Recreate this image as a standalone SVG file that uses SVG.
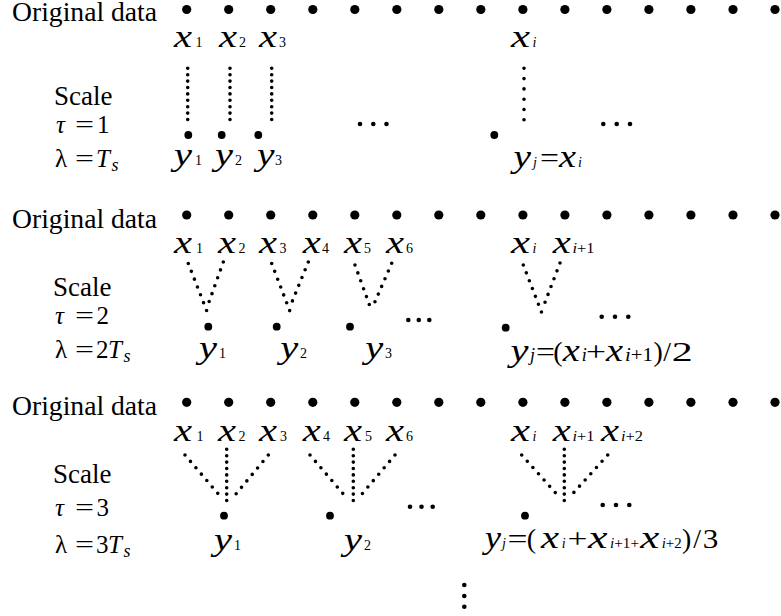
<svg xmlns="http://www.w3.org/2000/svg" width="781" height="616" viewBox="0 0 781 616">
<style>
.t{font-family:'Liberation Serif','DejaVu Serif',Times,serif;fill:#000}
.lbl{font-size:27px}
.m{font-size:25px}
.it{font-style:italic}
.v{font-size:31px;font-style:italic}
.s{font-size:14px}
.sb{font-size:18px}
.f{font-size:28px}
.dl{fill:none;stroke:#000;stroke-width:3.6;stroke-linecap:round;stroke-dasharray:0 6.4}
.dw{fill:none;stroke:#000;stroke-width:3.6;stroke-linecap:round;stroke-dasharray:0 10.3}
.da{fill:none;stroke:#000;stroke-width:3.6;stroke-linecap:round;stroke-dasharray:0 8.4}
</style>
<rect width="781" height="616" fill="#fff"/>
<defs>
<circle id="bd" r="4.6"/>
<circle id="yd" r="3.9"/>
<circle id="ed" r="2.3"/>
</defs>

<!-- ================= ROW 1 ================= -->
<g id="r1-labels">
<text class="t lbl" x="12" y="21" textLength="145" lengthAdjust="spacingAndGlyphs">Original data</text>
<text class="t lbl" x="54" y="105">Scale</text>
<text class="t m it" x="56" y="133">τ</text>
<text class="t m" x="75" y="133" textLength="19" lengthAdjust="spacingAndGlyphs">=</text>
<text class="t m" x="97" y="133">1</text>
<text class="t m" x="55" y="167">λ</text>
<text class="t m" x="75" y="167" textLength="19" lengthAdjust="spacingAndGlyphs">=</text>
<text class="t m it" x="96" y="167">T</text>
<text class="t it" style="font-size:18px" x="111.5" y="171">s</text>
</g>
<g id="r1-data">
<use href="#bd" x="186.7" y="9.5"/><use href="#bd" x="228.7" y="9.5"/><use href="#bd" x="270.7" y="9.5"/>
<use href="#bd" x="312.8" y="9.5"/><use href="#bd" x="354.8" y="9.5"/><use href="#bd" x="396.8" y="9.5"/>
<use href="#bd" x="438.8" y="9.5"/><use href="#bd" x="480.8" y="9.5"/><use href="#bd" x="522.9" y="9.5"/>
<use href="#bd" x="564.9" y="9.5"/><use href="#bd" x="606.9" y="9.5"/><use href="#bd" x="648.9" y="9.5"/>
<use href="#bd" x="690.9" y="9.5"/><use href="#bd" x="733" y="9.5"/><use href="#bd" x="775" y="9.5"/>
</g>
<g id="r1-x1"><text class="t v" x="174" y="46.7" textLength="18" lengthAdjust="spacingAndGlyphs">x</text><text class="t s" x="195.5" y="46.7">1</text></g>
<g id="r1-x2"><text class="t v" x="219" y="46.7" textLength="18" lengthAdjust="spacingAndGlyphs">x</text><text class="t s" x="239" y="46.7">2</text></g>
<g id="r1-x3"><text class="t v" x="259" y="46.7" textLength="18" lengthAdjust="spacingAndGlyphs">x</text><text class="t s" x="279" y="46.7">3</text></g>
<g id="r1-xi"><text class="t v" x="511" y="46.7" textLength="19" lengthAdjust="spacingAndGlyphs">x</text><text class="t s it" x="532.5" y="46.7">i</text></g>

<g id="r1-connectors">
<path class="dl" d="M187.7 68.3V120"/>
<path class="dl" d="M230 68.3V120"/>
<path class="dl" d="M271.7 68.3V120"/>
<path class="dw" d="M524 68.3V121"/>
</g>

<g id="r1-y1"><use href="#yd" x="188.3" y="135"/><text class="t v" x="174" y="165" textLength="18" lengthAdjust="spacingAndGlyphs">y</text><text class="t s" x="195" y="165">1</text></g>
<g id="r1-y2"><use href="#yd" x="221.7" y="135"/><text class="t v" x="215" y="165" textLength="18" lengthAdjust="spacingAndGlyphs">y</text><text class="t s" x="235" y="165">2</text></g>
<g id="r1-y3"><use href="#yd" x="258.3" y="135"/><text class="t v" x="257" y="165" textLength="17.5" lengthAdjust="spacingAndGlyphs">y</text><text class="t s" x="275" y="165">3</text></g>
<g id="r1-ell1"><use href="#ed" x="360" y="124"/><use href="#ed" x="373.3" y="124"/><use href="#ed" x="386.5" y="124"/></g>
<g id="r1-yj">
<use href="#yd" x="494.3" y="135"/>
<text class="t v" x="513.5" y="166.7" textLength="17.5" lengthAdjust="spacingAndGlyphs">y</text>
<text class="t s it" x="533" y="166.7">j</text>
<text class="t f" x="540" y="166.7" textLength="19" lengthAdjust="spacingAndGlyphs">=</text>
<text class="t v" x="559" y="166.7" textLength="17" lengthAdjust="spacingAndGlyphs">x</text>
<text class="t s it" x="578" y="166.7">i</text>
</g>
<g id="r1-ell2"><use href="#ed" x="603.3" y="124"/><use href="#ed" x="616.7" y="124"/><use href="#ed" x="630" y="124"/></g>

<!-- ================= ROW 2 ================= -->
<g id="r2-labels">
<text class="t lbl" x="12" y="227.5" textLength="145" lengthAdjust="spacingAndGlyphs">Original data</text>
<text class="t lbl" x="53" y="296">Scale</text>
<text class="t m it" x="55" y="324">τ</text>
<text class="t m" x="75" y="324" textLength="19" lengthAdjust="spacingAndGlyphs">=</text>
<text class="t m" x="96.5" y="324">2</text>
<text class="t m" x="55" y="358">λ</text>
<text class="t m" x="75" y="358" textLength="19" lengthAdjust="spacingAndGlyphs">=</text>
<text class="t m" x="96" y="358">2</text>
<text class="t m it" x="108" y="358">T</text>
<text class="t it" style="font-size:18px" x="123.5" y="362">s</text>
</g>
<g id="r2-data">
<use href="#bd" x="186.7" y="215"/><use href="#bd" x="228.7" y="215"/><use href="#bd" x="270.7" y="215"/>
<use href="#bd" x="312.8" y="215"/><use href="#bd" x="354.8" y="215"/><use href="#bd" x="396.8" y="215"/>
<use href="#bd" x="438.8" y="215"/><use href="#bd" x="480.8" y="215"/><use href="#bd" x="522.9" y="215"/>
<use href="#bd" x="564.9" y="215"/><use href="#bd" x="606.9" y="215"/><use href="#bd" x="648.9" y="215"/>
<use href="#bd" x="690.9" y="215"/><use href="#bd" x="733" y="215"/><use href="#bd" x="775" y="215"/>
</g>
<g id="r2-x1"><text class="t v" x="174" y="252.7" textLength="18" lengthAdjust="spacingAndGlyphs">x</text><text class="t s" x="196" y="252.7">1</text></g>
<g id="r2-x2"><text class="t v" x="218" y="252.7" textLength="18" lengthAdjust="spacingAndGlyphs">x</text><text class="t s" x="238.5" y="252.7">2</text></g>
<g id="r2-x3"><text class="t v" x="259" y="252.7" textLength="18" lengthAdjust="spacingAndGlyphs">x</text><text class="t s" x="279.5" y="252.7">3</text></g>
<g id="r2-x4"><text class="t v" x="302.7" y="252.7" textLength="18" lengthAdjust="spacingAndGlyphs">x</text><text class="t s" x="322" y="252.7">4</text></g>
<g id="r2-x5"><text class="t v" x="344" y="252.7" textLength="18" lengthAdjust="spacingAndGlyphs">x</text><text class="t s" x="364" y="252.7">5</text></g>
<g id="r2-x6"><text class="t v" x="386" y="252.7" textLength="18" lengthAdjust="spacingAndGlyphs">x</text><text class="t s" x="406" y="252.7">6</text></g>
<g id="r2-xi"><text class="t v" x="511" y="252.7" textLength="19" lengthAdjust="spacingAndGlyphs">x</text><text class="t s it" x="532.5" y="252.7">i</text></g>
<g id="r2-xi1"><text class="t v" x="552.7" y="252.7" textLength="18" lengthAdjust="spacingAndGlyphs">x</text><text class="t s" x="572.5" y="252.7" textLength="22" lengthAdjust="spacingAndGlyphs"><tspan font-style="italic">i</tspan>+1</text></g>

<g id="r2-connectors">
<path class="da" d="M188.3 263.5L207 311.5"/>
<path class="da" d="M223.3 262L209 302"/>
<path class="da" d="M271.7 263.5L290 311.5"/>
<path class="da" d="M308.3 262L292 302"/>
<path class="da" d="M355 265L372 312"/>
<path class="da" d="M391.7 263.3L374 304"/>
<path class="da" d="M523.3 265L542 313.5"/>
<path class="da" d="M560 263L544 305"/>
</g>

<g id="r2-y1"><use href="#yd" x="208.3" y="326.7"/><text class="t v" x="199" y="358.3" textLength="18" lengthAdjust="spacingAndGlyphs">y</text><text class="t s" x="219" y="358.3">1</text></g>
<g id="r2-y2"><use href="#yd" x="276.7" y="326.7"/><text class="t v" x="280.3" y="358.3" textLength="18" lengthAdjust="spacingAndGlyphs">y</text><text class="t s" x="300" y="358.3">2</text></g>
<g id="r2-y3"><use href="#yd" x="350" y="326.7"/><text class="t v" x="365.3" y="358.3" textLength="18" lengthAdjust="spacingAndGlyphs">y</text><text class="t s" x="385" y="358.3">3</text></g>
<g id="r2-ell1"><use href="#ed" x="408.3" y="320"/><use href="#ed" x="418.8" y="320"/><use href="#ed" x="429.3" y="320"/></g>
<g id="r2-yj">
<use href="#yd" x="505.7" y="327.7"/>
<text class="t v" x="510.5" y="361" textLength="18" lengthAdjust="spacingAndGlyphs">y</text>
<text class="t sb it" x="530" y="361">j</text>
<text class="t f" x="536" y="361" textLength="19" lengthAdjust="spacingAndGlyphs">=</text>
<text class="t f" x="553.3" y="361">(</text>
<text class="t v" x="562.7" y="361" textLength="17" lengthAdjust="spacingAndGlyphs">x</text>
<text class="t sb it" x="581.7" y="361">i</text>
<text class="t f" x="586" y="361" textLength="20" lengthAdjust="spacingAndGlyphs">+</text>
<text class="t v" x="606" y="361" textLength="17" lengthAdjust="spacingAndGlyphs">x</text>
<text class="t sb" x="625" y="361" textLength="28" lengthAdjust="spacingAndGlyphs"><tspan font-style="italic">i</tspan>+1</text>
<text class="t f" x="653.5" y="361">)</text>
<text class="t f" x="663.3" y="361">/</text>
<text class="t f" x="671.7" y="361" textLength="21" lengthAdjust="spacingAndGlyphs">2</text>
</g>
<g id="r2-ell2"><use href="#ed" x="601.7" y="316.7"/><use href="#ed" x="615" y="316.7"/><use href="#ed" x="628.3" y="316.7"/></g>

<!-- ================= ROW 3 ================= -->
<g id="r3-labels">
<text class="t lbl" x="12" y="414.5" textLength="145" lengthAdjust="spacingAndGlyphs">Original data</text>
<text class="t lbl" x="53" y="483">Scale</text>
<text class="t m it" x="55" y="516">τ</text>
<text class="t m" x="75" y="516" textLength="19" lengthAdjust="spacingAndGlyphs">=</text>
<text class="t m" x="96.5" y="516">3</text>
<text class="t m" x="55" y="552.7">λ</text>
<text class="t m" x="75" y="552.7" textLength="19" lengthAdjust="spacingAndGlyphs">=</text>
<text class="t m" x="96" y="552.7">3</text>
<text class="t m it" x="108" y="552.7">T</text>
<text class="t it" style="font-size:18px" x="123.5" y="556.7">s</text>
</g>
<g id="r3-data">
<use href="#bd" x="186.7" y="402.3"/><use href="#bd" x="228.7" y="402.3"/><use href="#bd" x="270.7" y="402.3"/>
<use href="#bd" x="312.8" y="402.3"/><use href="#bd" x="354.8" y="402.3"/><use href="#bd" x="396.8" y="402.3"/>
<use href="#bd" x="438.8" y="402.3"/><use href="#bd" x="480.8" y="402.3"/><use href="#bd" x="522.9" y="402.3"/>
<use href="#bd" x="564.9" y="402.3"/><use href="#bd" x="606.9" y="402.3"/><use href="#bd" x="648.9" y="402.3"/>
<use href="#bd" x="690.9" y="402.3"/><use href="#bd" x="733" y="402.3"/><use href="#bd" x="775" y="402.3"/>
</g>
<g id="r3-x1"><text class="t v" x="174" y="440.7" textLength="18" lengthAdjust="spacingAndGlyphs">x</text><text class="t s" x="196.5" y="440.7">1</text></g>
<g id="r3-x2"><text class="t v" x="218" y="440.7" textLength="18" lengthAdjust="spacingAndGlyphs">x</text><text class="t s" x="238.5" y="440.7">2</text></g>
<g id="r3-x3"><text class="t v" x="259" y="440.7" textLength="18" lengthAdjust="spacingAndGlyphs">x</text><text class="t s" x="280" y="440.7">3</text></g>
<g id="r3-x4"><text class="t v" x="302.7" y="440.7" textLength="18" lengthAdjust="spacingAndGlyphs">x</text><text class="t s" x="323" y="440.7">4</text></g>
<g id="r3-x5"><text class="t v" x="344" y="440.7" textLength="18" lengthAdjust="spacingAndGlyphs">x</text><text class="t s" x="365" y="440.7">5</text></g>
<g id="r3-x6"><text class="t v" x="386" y="440.7" textLength="18" lengthAdjust="spacingAndGlyphs">x</text><text class="t s" x="406" y="440.7">6</text></g>
<g id="r3-xi"><text class="t v" x="511" y="440.7" textLength="19" lengthAdjust="spacingAndGlyphs">x</text><text class="t s it" x="532.5" y="440.7">i</text></g>
<g id="r3-xi1"><text class="t v" x="552.7" y="440.7" textLength="18" lengthAdjust="spacingAndGlyphs">x</text><text class="t s" x="572.5" y="440.7" textLength="22" lengthAdjust="spacingAndGlyphs"><tspan font-style="italic">i</tspan>+1</text></g>
<g id="r3-xi2"><text class="t v" x="601" y="440.7" textLength="18" lengthAdjust="spacingAndGlyphs">x</text><text class="t s" x="621" y="440.7" textLength="22" lengthAdjust="spacingAndGlyphs"><tspan font-style="italic">i</tspan>+2</text></g>

<g id="r3-connectors">
<path class="da" d="M185 455L218.3 494"/>
<path class="dl" d="M226.7 449.3V502"/>
<path class="da" d="M268.3 455L236 494"/>
<path class="da" d="M310 455L343.3 494"/>
<path class="dl" d="M353.3 449.3V502"/>
<path class="da" d="M395 455L362 494"/>
<path class="da" d="M521.7 455L556.5 494"/>
<path class="dl" d="M564.3 449.3V502"/>
<path class="da" d="M607.7 455L572 494.5"/>
</g>

<g id="r3-y1"><use href="#yd" x="224" y="515.7"/><text class="t v" x="214" y="550" textLength="18" lengthAdjust="spacingAndGlyphs">y</text><text class="t s" x="234" y="550">1</text></g>
<g id="r3-y2"><use href="#yd" x="330" y="515.7"/><text class="t v" x="344" y="550" textLength="18" lengthAdjust="spacingAndGlyphs">y</text><text class="t s" x="364" y="550">2</text></g>
<g id="r3-ell1"><use href="#ed" x="410" y="506.7"/><use href="#ed" x="421.5" y="506.7"/><use href="#ed" x="432.7" y="506.7"/></g>
<g id="r3-yj">
<use href="#yd" x="525" y="515.7"/>
<text class="t v" x="485" y="548.3" textLength="16" lengthAdjust="spacingAndGlyphs">y</text>
<text class="t s it" x="502" y="548.3">j</text>
<text class="t f" x="507.5" y="548.3" textLength="20" lengthAdjust="spacingAndGlyphs">=</text>
<text class="t f" x="526.7" y="548.3">(</text>
<text class="t v" x="541" y="548.3" textLength="18" lengthAdjust="spacingAndGlyphs">x</text>
<text class="t s it" x="561.7" y="548.3">i</text>
<text class="t f" x="567.5" y="548.3" textLength="20" lengthAdjust="spacingAndGlyphs">+</text>
<text class="t v" x="588" y="548.3" textLength="19.5" lengthAdjust="spacingAndGlyphs">x</text>
<text class="t s" x="610" y="548.3" textLength="29" lengthAdjust="spacingAndGlyphs"><tspan font-style="italic">i</tspan>+1+</text>
<text class="t v" x="640.3" y="548.3" textLength="19" lengthAdjust="spacingAndGlyphs">x</text>
<text class="t s" x="661.7" y="548.3" textLength="20" lengthAdjust="spacingAndGlyphs"><tspan font-style="italic">i</tspan>+2</text>
<text class="t f" x="682" y="548.3">)</text>
<text class="t f" x="693.3" y="548.3">/</text>
<text class="t f" x="702.7" y="548.3" textLength="15.6" lengthAdjust="spacingAndGlyphs">3</text>
</g>
<g id="r3-ell2"><use href="#ed" x="602.7" y="505"/><use href="#ed" x="616" y="505"/><use href="#ed" x="629.3" y="505"/></g>

<g id="vdots"><use href="#ed" x="464.3" y="585"/><use href="#ed" x="464.3" y="596"/><use href="#ed" x="464.3" y="606.7"/></g>
</svg>
